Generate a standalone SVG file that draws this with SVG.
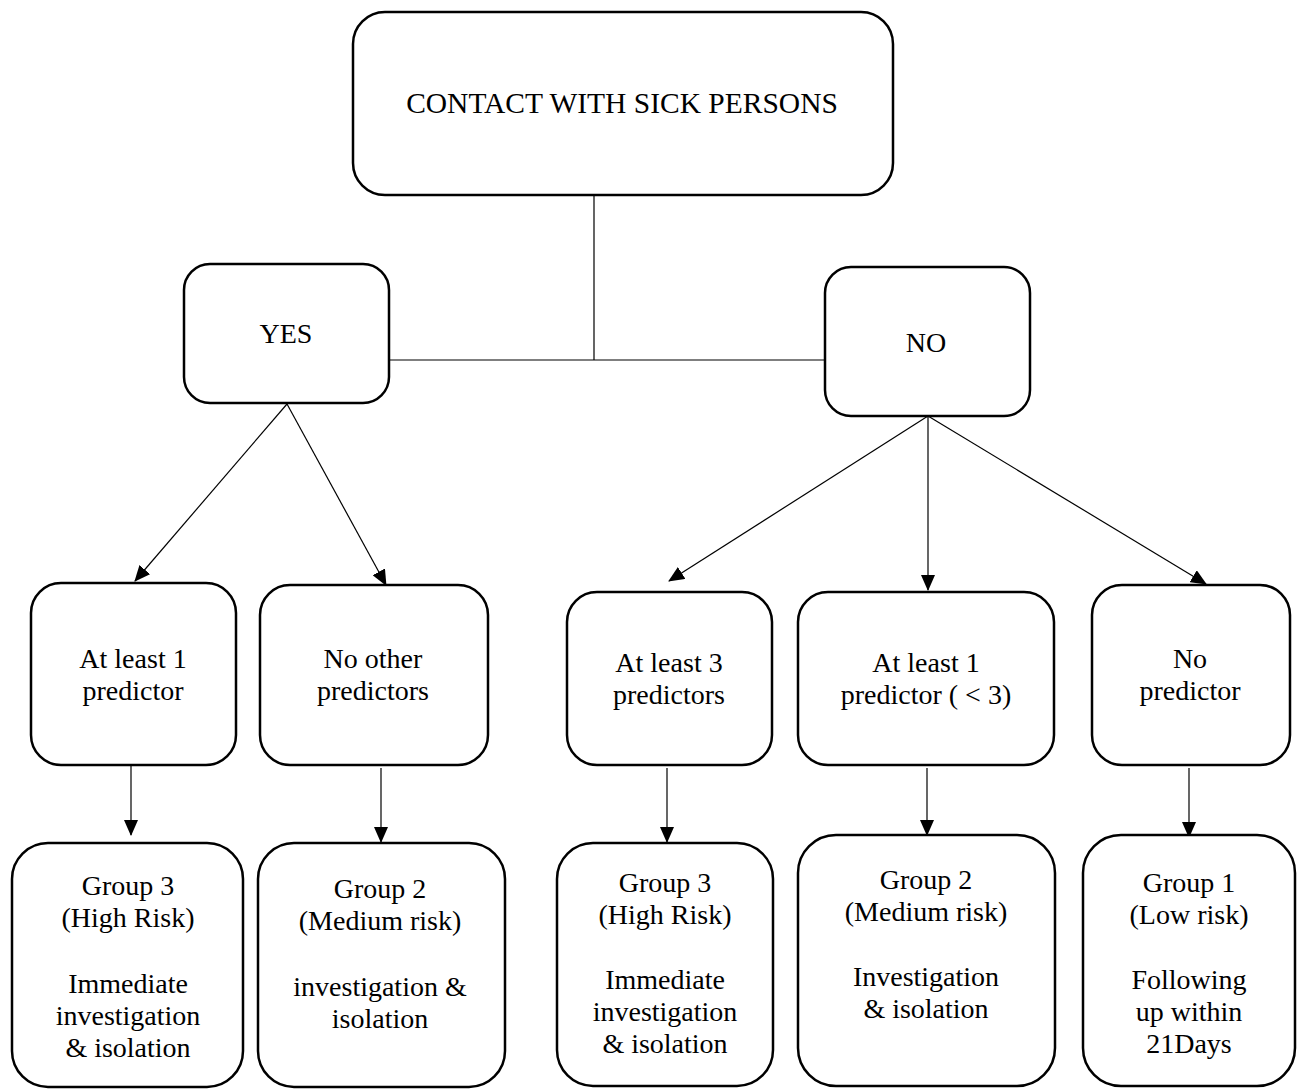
<svg xmlns="http://www.w3.org/2000/svg" width="1303" height="1089" viewBox="0 0 1303 1089">
<style>
.box{fill:#fff;stroke:#000;stroke-width:2.5}
.t{font-family:"Liberation Serif","Times New Roman",serif;font-size:28px;fill:#000;text-anchor:middle}
.c{fill:none;stroke:#000;stroke-width:1.2}
</style>
<defs>
<marker id="ah" markerUnits="userSpaceOnUse" markerWidth="16" markerHeight="14" refX="15" refY="7" orient="auto">
<path d="M0,0 L16,7 L0,14 Z" fill="#000"/>
</marker>
</defs>
<rect width="1303" height="1089" fill="#fff"/>
<g id="connectors">
<path class="c" d="M594,195 V360 M389,360 H825"/>
<line class="c" x1="287" y1="404" x2="135" y2="581" marker-end="url(#ah)"/>
<line class="c" x1="287" y1="404" x2="386" y2="585" marker-end="url(#ah)"/>
<line class="c" x1="928" y1="416" x2="669" y2="581" marker-end="url(#ah)"/>
<line class="c" x1="928" y1="416" x2="928" y2="590" marker-end="url(#ah)"/>
<line class="c" x1="928" y1="416" x2="1206" y2="584" marker-end="url(#ah)"/>
<line class="c" x1="131" y1="765" x2="131" y2="835" marker-end="url(#ah)"/>
<line class="c" x1="381" y1="768" x2="381" y2="842" marker-end="url(#ah)"/>
<line class="c" x1="667" y1="768" x2="667" y2="842" marker-end="url(#ah)"/>
<line class="c" x1="927" y1="768" x2="927" y2="835" marker-end="url(#ah)"/>
<line class="c" x1="1189" y1="768" x2="1189" y2="837" marker-end="url(#ah)"/>
</g>
<g id="root"><rect class="box" x="353" y="12" width="540" height="183" rx="32"/><text class="t" x="622" y="113" style="font-size:29.5px">CONTACT WITH SICK PERSONS</text></g>
<g id="yes"><rect class="box" x="184" y="264" width="205" height="139" rx="26"/><text class="t" x="286" y="343">YES</text></g>
<g id="no"><rect class="box" x="825" y="267" width="205" height="149" rx="26"/><text class="t" x="926" y="352">NO</text></g>
<g id="m1"><rect class="box" x="31" y="583" width="205" height="182" rx="30"/><text class="t" x="133" y="668">At least 1</text><text class="t" x="133" y="700">predictor</text></g>
<g id="m2"><rect class="box" x="260" y="585" width="228" height="180" rx="30"/><text class="t" x="373" y="668">No other</text><text class="t" x="373" y="700">predictors</text></g>
<g id="m3"><rect class="box" x="567" y="592" width="205" height="173" rx="30"/><text class="t" x="669" y="672">At least 3</text><text class="t" x="669" y="704">predictors</text></g>
<g id="m4"><rect class="box" x="798" y="592" width="256" height="173" rx="30"/><text class="t" x="926" y="672">At least 1</text><text class="t" x="926" y="704">predictor ( &lt; 3)</text></g>
<g id="m5"><rect class="box" x="1092" y="585" width="198" height="180" rx="30"/><text class="t" x="1190" y="668">No</text><text class="t" x="1190" y="700">predictor</text></g>
<g id="b1"><rect class="box" x="12" y="843" width="231" height="244" rx="36"/><text class="t" x="128" y="895">Group 3</text><text class="t" x="128" y="927">(High Risk)</text><text class="t" x="128" y="993">Immediate</text><text class="t" x="128" y="1025">investigation</text><text class="t" x="128" y="1057">&amp; isolation</text></g>
<g id="b2"><rect class="box" x="258" y="843" width="247" height="244" rx="36"/><text class="t" x="380" y="898">Group 2</text><text class="t" x="380" y="930">(Medium risk)</text><text class="t" x="380" y="996">investigation &amp;</text><text class="t" x="380" y="1028">isolation</text></g>
<g id="b3"><rect class="box" x="557" y="843" width="216" height="243" rx="36"/><text class="t" x="665" y="892">Group 3</text><text class="t" x="665" y="924">(High Risk)</text><text class="t" x="665" y="989">Immediate</text><text class="t" x="665" y="1021">investigation</text><text class="t" x="665" y="1053">&amp; isolation</text></g>
<g id="b4"><rect class="box" x="798" y="835" width="257" height="251" rx="38"/><text class="t" x="926" y="889">Group 2</text><text class="t" x="926" y="921">(Medium risk)</text><text class="t" x="926" y="986">Investigation</text><text class="t" x="926" y="1018">&amp; isolation</text></g>
<g id="b5"><rect class="box" x="1083" y="835" width="212" height="251" rx="38"/><text class="t" x="1189" y="892">Group 1</text><text class="t" x="1189" y="924">(Low risk)</text><text class="t" x="1189" y="989">Following</text><text class="t" x="1189" y="1021">up within</text><text class="t" x="1189" y="1053">21Days</text></g>
</svg>
